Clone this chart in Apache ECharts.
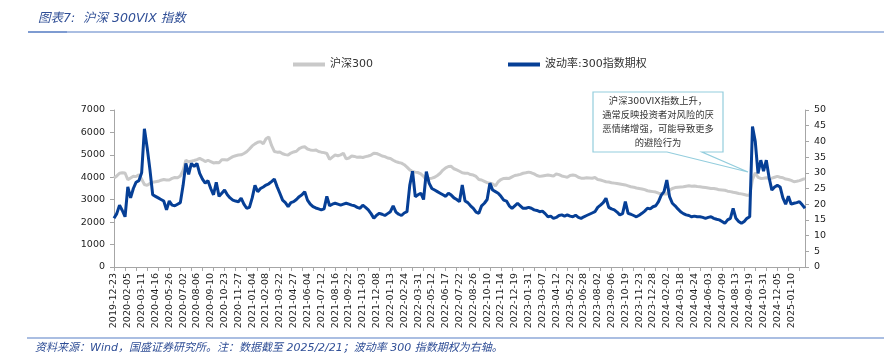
<!DOCTYPE html>
<html><head><meta charset="utf-8">
<script src="https://cdn.jsdelivr.net/npm/echarts@6/dist/echarts.min.js"></script>
<style>html,body{margin:0;padding:0;background:#fff}#c{width:884px;height:363px}</style>
</head><body><div id="c"></div>
<script>
// x-axis tick labels (one every 25 trading days); data sampled every 5 trading days
const tickLabels = ['2019-12-23','2020-02-05','2020-03-11','2020-04-16','2020-05-26','2020-07-02','2020-08-06','2020-09-10','2020-10-23','2020-11-27',
'2021-01-04','2021-02-08','2021-03-22','2021-04-27','2021-06-04','2021-07-12','2021-08-16','2021-09-22','2021-11-03','2021-12-08',
'2022-01-13','2022-02-24','2022-03-31','2022-05-12','2022-06-17','2022-07-22','2022-08-26','2022-10-10','2022-11-14','2022-12-19',
'2023-01-31','2023-03-07','2023-04-12','2023-05-22','2023-06-28','2023-08-02','2023-09-06','2023-10-19','2023-11-23','2023-12-28',
'2024-02-02','2024-03-18','2024-04-24','2024-06-03','2024-07-09','2024-08-13','2024-09-19','2024-10-31','2024-12-05','2025-01-10'];

// 沪深300 (left axis)
const hs300 = [
3970,4060,4180,4200,4190, 3890,3970,4050,4030,4110, 3920,3680,3640,3720,3780, 3800,3820,3870,3900,3880,
3880,3950,3990,3980,4060, 4300,4760,4690,4720,4750, 4790,4840,4780,4700,4760, 4700,4640,4660,4650,4780,
4780,4770,4850,4920,4960, 4990,5000,5060,5140,5260, 5400,5490,5560,5590,5490, 5720,5800,5420,5150,5120,
5130,5050,5010,4990,5080, 5130,5160,5280,5340,5360, 5260,5220,5200,5220,5150, 5120,5100,5060,4800,4900,
4990,4960,5000,5070,4820, 4860,4950,4930,4890,4900, 4880,4920,4950,4990,5070, 5060,5010,4950,4920,4860,
4840,4760,4700,4660,4630, 4560,4450,4330,4260,4230, 4210,4150,4040,3880,3950, 3960,4000,4080,4180,4320,
4420,4480,4490,4380,4330, 4270,4200,4180,4180,4120, 4100,4040,3900,3880,3820, 3760,3740,3700,3620,3800,
3900,3950,3960,3950,4020, 4080,4100,4130,4180,4200, 4230,4200,4150,4080,4040, 4060,4080,4100,4080,4050,
4150,4120,4060,4030,4000, 4080,4100,4080,4000,3960, 3960,3980,3970,3960,3990, 3900,3880,3840,3800,3790,
3760,3740,3720,3700,3680, 3660,3620,3580,3560,3520, 3500,3480,3450,3400,3380, 3360,3340,3290,3280,3250,
3250,3420,3500,3540,3560, 3570,3580,3600,3620,3600, 3610,3590,3580,3560,3540, 3520,3500,3500,3480,3440,
3430,3420,3380,3360,3330, 3310,3280,3260,3230,3200, 3200,3900,4200,4000,3950, 3960,3980,3940,3960,4000,
4040,4000,3980,3920,3900, 3860,3800,3820,3850,3900, 3940];

// 波动率:300指数期权 (right axis)
const vol = [
15.5,17,19.7,18,16, 25.5,22,25,27,27.5, 30,44,38,31,23, 22.5,22,21.5,21,18.2,
21,19.7,19.5,20,20.5, 26,33,29.5,33,32, 33,29.8,28,26.7,27.5, 25,23,27,22.5,23.5,
24.5,23,22,21.3,21, 20.8,21.9,20,18.7,19, 22,26,24,25,25.5, 26.1,26.5,27.2,28,25.6,
23.5,21.3,20.5,19.2,20.5, 20.8,21.5,22.4,23,24, 21.3,20,19.2,18.8,18.5, 18.2,18.5,22.5,19.5,20,
20.3,20,19.7,20,20.3, 20,19.7,19.5,19,18.7, 19.7,19,18.2,17,15.5, 16.5,17.1,16.8,16.4,17,
17.6,19.5,17.5,16.8,16.4, 17.2,17.6,26,30.5,22.4, 23,23.5,21.5,30.4,26.7, 25,24.5,24,23.5,23,
22.5,23.5,22.9,22,21.5, 20.8,26.1,21,20.5,19.5, 18.7,17.5,17.1,19.5,20.3, 21.5,26.7,24.5,24,23.5,
22.5,21.3,21,19.5,18.7, 19.5,20.3,19.5,18.7,18.7, 19,18.7,18.2,18,17.6, 17.8,17,16,16.2,15.5,
15.8,16.4,16.6,16.2,16.6, 16.2,16,16.5,15.8,15.5, 16,16.4,16.8,17.2,17.6, 19,19.7,20.5,21.9,19,
18.5,18.2,17.5,16.6,17, 20.8,17.1,16.8,16.4,16, 16.5,17.1,17.8,18.7,18.5, 19.2,19.5,20.8,22.9,24,
27.7,22.4,20.3,19.5,18.5, 17.6,17,16.6,16.4,16, 16.2,16,16,15.8,15.5, 15.8,16,15.5,15.2,15,
14.5,13.9,15,15.5,18.7, 15.5,14.5,13.9,14.5,15.5, 16,44.7,40,29.8,34, 30.5,34,28.5,24.5,25.5,
26,25.5,22,20,22.5, 20,20.3,20.5,20.8,19.8, 18.7];

const STEP = 5;
const categories = hs300.map((_, i) => {
  const k = Math.floor(i / STEP);
  if (i % STEP === 0 && k < tickLabels.length) return tickLabels[k];
  return tickLabels[Math.min(k, tickLabels.length - 1)] + '+' + (i % STEP || STEP);
});

const chart = echarts.init(document.getElementById('c'), null, {renderer: 'canvas'});
const axisColor = '#A6A6A6';
const labelFont = {color: '#222', fontSize: 9.5, fontFamily: 'DejaVu Sans'};
chart.setOption({
  animation: false,
  backgroundColor: '#fff',
  grid: {left: 114, right: 79, top: 110, bottom: 96, containLabel: false},
  legend: [
    {left: 288, top: 54, itemWidth: 32, itemHeight: 4, icon: 'rect', data: ['沪深300'],
     textStyle: {fontSize: 11, color: '#333', fontFamily: 'DejaVu Sans, Noto Sans CJK SC'}},
    {left: 503, top: 54, itemWidth: 32, itemHeight: 4, icon: 'rect', data: ['波动率:300指数期权'],
     textStyle: {fontSize: 11, color: '#333', fontFamily: 'DejaVu Sans, Noto Sans CJK SC'}}
  ],
  xAxis: {
    type: 'category', data: categories, boundaryGap: false,
    axisLine: {lineStyle: {color: axisColor, width: 1}},
    axisTick: {show: true, length: 4, lineStyle: {color: axisColor}, interval: (i) => i % 4 === 0},
    axisLabel: Object.assign({rotate: 90, margin: 6, interval: (i) => i % STEP === 0 && i / STEP < tickLabels.length,
      formatter: (v) => (v.indexOf('+') >= 0 ? '' : v)}, labelFont),
    splitLine: {show: false}
  },
  yAxis: [
    {type: 'value', min: 0, max: 7000, interval: 1000, position: 'left',
     axisLine: {show: true, lineStyle: {color: axisColor}},
     axisTick: {show: true, length: 4, lineStyle: {color: axisColor}},
     axisLabel: Object.assign({margin: 9, formatter: (v) => String(v)}, labelFont),
     splitLine: {show: false}},
    {type: 'value', min: 0, max: 50, interval: 5, position: 'right',
     axisLine: {show: true, lineStyle: {color: axisColor}},
     axisTick: {show: true, length: 4, lineStyle: {color: axisColor}},
     axisLabel: Object.assign({margin: 9, formatter: (v) => String(v)}, labelFont),
     splitLine: {show: false}}
  ],
  series: [
    {name: '沪深300', type: 'line', yAxisIndex: 0, data: hs300, symbol: 'none', showSymbol: false,
     lineStyle: {color: '#C9C9C9', width: 3}, itemStyle: {color: '#C9C9C9'}, z: 2},
    {name: '波动率:300指数期权', type: 'line', yAxisIndex: 1, data: vol, symbol: 'none', showSymbol: false,
     lineStyle: {color: '#063F96', width: 3}, itemStyle: {color: '#063F96'}, z: 3}
  ],
  graphic: [
    {type: 'text', left: 38, top: 12, style: {text: '图表7:  沪深 300VIX 指数', fill: '#2F4E96',
      font: 'italic 12.5px "DejaVu Sans", "Noto Sans CJK SC", sans-serif'}},
    {type: 'line', shape: {x1: 28, y1: 32, x2: 884, y2: 32}, style: {stroke: '#8EA8D8', lineWidth: 1.5}},
    {type: 'line', shape: {x1: 28, y1: 32, x2: 67, y2: 32}, style: {stroke: '#6F8FCB', lineWidth: 1.5}},
    {type: 'line', shape: {x1: 27, y1: 338, x2: 884, y2: 338}, style: {stroke: '#8EA8D8', lineWidth: 1.5}},
    {type: 'text', left: 35, top: 343, style: {text: '资料来源：Wind，国盛证券研究所。注：数据截至 2025/2/21；波动率 300 指数期权为右轴。',
      fill: '#2F4E96', font: 'italic 11px "DejaVu Sans", "Noto Sans CJK SC", sans-serif'}},
    {type: 'polygon', z: 100, shape: {points: [[593,92],[723,92],[723,152],[702,152],[748,172],[667,152],[593,152]]},
      style: {fill: '#fff', stroke: '#93CDDD', lineWidth: 1.2}},
    {type: 'text', z: 101, x: 658, y: 95, style: {text: '沪深300VIX指数上升，\n通常反映投资者对风险的厌\n恶情绪增强，可能导致更多\n的避险行为',
      fill: '#333', align: 'center', verticalAlign: 'top', lineHeight: 14, font: '9.3px "DejaVu Sans", "Noto Sans CJK SC", sans-serif'}}
  ]
});
</script>
</body></html>
